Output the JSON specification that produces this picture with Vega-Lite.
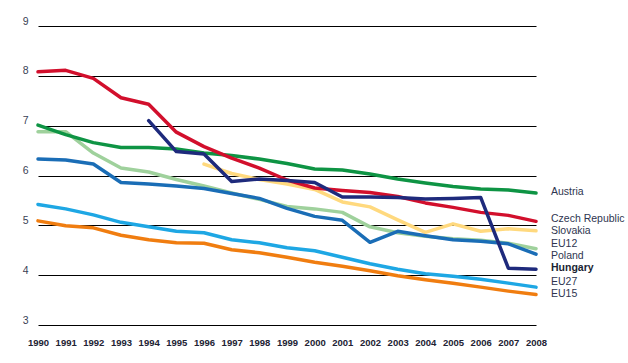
{
  "$schema": "https://vega.github.io/schema/vega-lite/v6.json",
  "autosize": {"type": "none"},
  "padding": {"left": 38, "top": 26, "right": 92, "bottom": 38},
  "width": 498,
  "height": 299,
  "background": "white",
  "config": {"view": {"stroke": null}, "font": "Liberation Sans"},
  "datasets": {
    "series": [
      {"series":"EU15","year":1990,"value":5.09},{"series":"EU15","year":1991,"value":4.99},{"series":"EU15","year":1992,"value":4.95},{"series":"EU15","year":1993,"value":4.80},{"series":"EU15","year":1994,"value":4.71},{"series":"EU15","year":1995,"value":4.65},{"series":"EU15","year":1996,"value":4.64},{"series":"EU15","year":1997,"value":4.51},{"series":"EU15","year":1998,"value":4.45},{"series":"EU15","year":1999,"value":4.36},{"series":"EU15","year":2000,"value":4.26},{"series":"EU15","year":2001,"value":4.18},{"series":"EU15","year":2002,"value":4.09},{"series":"EU15","year":2003,"value":3.99},{"series":"EU15","year":2004,"value":3.91},{"series":"EU15","year":2005,"value":3.84},{"series":"EU15","year":2006,"value":3.76},{"series":"EU15","year":2007,"value":3.68},{"series":"EU15","year":2008,"value":3.61},
      {"series":"EU27","year":1990,"value":5.42},{"series":"EU27","year":1991,"value":5.33},{"series":"EU27","year":1992,"value":5.21},{"series":"EU27","year":1993,"value":5.06},{"series":"EU27","year":1994,"value":4.97},{"series":"EU27","year":1995,"value":4.88},{"series":"EU27","year":1996,"value":4.85},{"series":"EU27","year":1997,"value":4.71},{"series":"EU27","year":1998,"value":4.65},{"series":"EU27","year":1999,"value":4.55},{"series":"EU27","year":2000,"value":4.49},{"series":"EU27","year":2001,"value":4.36},{"series":"EU27","year":2002,"value":4.23},{"series":"EU27","year":2003,"value":4.12},{"series":"EU27","year":2004,"value":4.03},{"series":"EU27","year":2005,"value":3.98},{"series":"EU27","year":2006,"value":3.92},{"series":"EU27","year":2007,"value":3.84},{"series":"EU27","year":2008,"value":3.76},
      {"series":"EU12","year":1990,"value":6.88},{"series":"EU12","year":1991,"value":6.88},{"series":"EU12","year":1992,"value":6.45},{"series":"EU12","year":1993,"value":6.15},{"series":"EU12","year":1994,"value":6.07},{"series":"EU12","year":1995,"value":5.92},{"series":"EU12","year":1996,"value":5.79},{"series":"EU12","year":1997,"value":5.65},{"series":"EU12","year":1998,"value":5.52},{"series":"EU12","year":1999,"value":5.38},{"series":"EU12","year":2000,"value":5.33},{"series":"EU12","year":2001,"value":5.26},{"series":"EU12","year":2002,"value":4.97},{"series":"EU12","year":2003,"value":4.85},{"series":"EU12","year":2004,"value":4.78},{"series":"EU12","year":2005,"value":4.73},{"series":"EU12","year":2006,"value":4.70},{"series":"EU12","year":2007,"value":4.64},{"series":"EU12","year":2008,"value":4.53},
      {"series":"Slovakia","year":1996,"value":6.23},{"series":"Slovakia","year":1997,"value":6.04},{"series":"Slovakia","year":1998,"value":5.92},{"series":"Slovakia","year":1999,"value":5.83},{"series":"Slovakia","year":2000,"value":5.72},{"series":"Slovakia","year":2001,"value":5.47},{"series":"Slovakia","year":2002,"value":5.37},{"series":"Slovakia","year":2003,"value":5.11},{"series":"Slovakia","year":2004,"value":4.86},{"series":"Slovakia","year":2005,"value":5.03},{"series":"Slovakia","year":2006,"value":4.88},{"series":"Slovakia","year":2007,"value":4.93},{"series":"Slovakia","year":2008,"value":4.89},
      {"series":"Austria","year":1990,"value":7.01},{"series":"Austria","year":1991,"value":6.82},{"series":"Austria","year":1992,"value":6.66},{"series":"Austria","year":1993,"value":6.56},{"series":"Austria","year":1994,"value":6.56},{"series":"Austria","year":1995,"value":6.53},{"series":"Austria","year":1996,"value":6.45},{"series":"Austria","year":1997,"value":6.40},{"series":"Austria","year":1998,"value":6.33},{"series":"Austria","year":1999,"value":6.24},{"series":"Austria","year":2000,"value":6.13},{"series":"Austria","year":2001,"value":6.11},{"series":"Austria","year":2002,"value":6.03},{"series":"Austria","year":2003,"value":5.93},{"series":"Austria","year":2004,"value":5.85},{"series":"Austria","year":2005,"value":5.78},{"series":"Austria","year":2006,"value":5.73},{"series":"Austria","year":2007,"value":5.71},{"series":"Austria","year":2008,"value":5.65},
      {"series":"Czech Republic","year":1990,"value":8.08},{"series":"Czech Republic","year":1991,"value":8.11},{"series":"Czech Republic","year":1992,"value":7.95},{"series":"Czech Republic","year":1993,"value":7.56},{"series":"Czech Republic","year":1994,"value":7.43},{"series":"Czech Republic","year":1995,"value":6.87},{"series":"Czech Republic","year":1996,"value":6.58},{"series":"Czech Republic","year":1997,"value":6.35},{"series":"Czech Republic","year":1998,"value":6.15},{"series":"Czech Republic","year":1999,"value":5.91},{"series":"Czech Republic","year":2000,"value":5.75},{"series":"Czech Republic","year":2001,"value":5.70},{"series":"Czech Republic","year":2002,"value":5.66},{"series":"Czech Republic","year":2003,"value":5.58},{"series":"Czech Republic","year":2004,"value":5.45},{"series":"Czech Republic","year":2005,"value":5.36},{"series":"Czech Republic","year":2006,"value":5.26},{"series":"Czech Republic","year":2007,"value":5.20},{"series":"Czech Republic","year":2008,"value":5.08},
      {"series":"Poland","year":1990,"value":6.33},{"series":"Poland","year":1991,"value":6.31},{"series":"Poland","year":1992,"value":6.23},{"series":"Poland","year":1993,"value":5.86},{"series":"Poland","year":1994,"value":5.83},{"series":"Poland","year":1995,"value":5.79},{"series":"Poland","year":1996,"value":5.74},{"series":"Poland","year":1997,"value":5.64},{"series":"Poland","year":1998,"value":5.54},{"series":"Poland","year":1999,"value":5.34},{"series":"Poland","year":2000,"value":5.18},{"series":"Poland","year":2001,"value":5.10},{"series":"Poland","year":2002,"value":4.66},{"series":"Poland","year":2003,"value":4.88},{"series":"Poland","year":2004,"value":4.79},{"series":"Poland","year":2005,"value":4.71},{"series":"Poland","year":2006,"value":4.68},{"series":"Poland","year":2007,"value":4.63},{"series":"Poland","year":2008,"value":4.42},
      {"series":"Hungary","year":1994,"value":7.10},{"series":"Hungary","year":1995,"value":6.48},{"series":"Hungary","year":1996,"value":6.43},{"series":"Hungary","year":1997,"value":5.88},{"series":"Hungary","year":1998,"value":5.93},{"series":"Hungary","year":1999,"value":5.90},{"series":"Hungary","year":2000,"value":5.86},{"series":"Hungary","year":2001,"value":5.57},{"series":"Hungary","year":2002,"value":5.57},{"series":"Hungary","year":2003,"value":5.56},{"series":"Hungary","year":2004,"value":5.53},{"series":"Hungary","year":2005,"value":5.54},{"series":"Hungary","year":2006,"value":5.56},{"series":"Hungary","year":2007,"value":4.14},{"series":"Hungary","year":2008,"value":4.12}
    ],
    "labels": [
      {"series":"Austria","year":2008,"labelValue":5.67,"bold":false},
      {"series":"Czech Republic","year":2008,"labelValue":5.12,"bold":false},
      {"series":"Slovakia","year":2008,"labelValue":4.89,"bold":false},
      {"series":"EU12","year":2008,"labelValue":4.63,"bold":false},
      {"series":"Poland","year":2008,"labelValue":4.39,"bold":false},
      {"series":"Hungary","year":2008,"labelValue":4.14,"bold":true},
      {"series":"EU27","year":2008,"labelValue":3.86,"bold":false},
      {"series":"EU15","year":2008,"labelValue":3.62,"bold":false}
    ]
  },
  "encoding": {
    "x": {
      "field": "year", "type": "quantitative",
      "scale": {"domain": [1990, 2008], "nice": false, "zero": false},
      "axis": {
        "values": [1990,1991,1992,1993,1994,1995,1996,1997,1998,1999,2000,2001,2002,2003,2004,2005,2006,2007,2008],
        "format": "d", "title": null, "domain": false, "ticks": false, "grid": false,
        "labelOverlap": false, "labelBound": false, "labelFlush": false,
        "labelFont": "Liberation Sans", "labelFontWeight": "bold", "labelFontSize": 9.5,
        "labelColor": "#222233", "labelPadding": 12
      }
    }
  },
  "layer": [
    {
      "data": {"name": "series"},
      "mark": {"type": "line", "strokeWidth": 3.5, "strokeJoin": "round", "strokeCap": "round", "clip": false},
      "encoding": {
        "y": {
          "field": "value", "type": "quantitative",
          "scale": {"domain": [3, 9], "nice": false, "zero": false},
          "axis": {
            "values": [3,4,5,6,7,8,9], "title": null, "domain": false, "ticks": false,
            "grid": true, "gridColor": "#000000", "gridWidth": 1.2, "gridOpacity": 1,
            "labelOverlap": false, "labelFlush": false,
            "labelFont": "Liberation Sans", "labelFontSize": 10.5, "labelColor": "#3a3f55",
            "labelPadding": 10, "labelBaseline": "bottom"
          }
        },
        "color": {
          "field": "series", "type": "nominal", "legend": null,
          "scale": {
            "domain": ["EU15","EU27","EU12","Slovakia","Austria","Czech Republic","Poland","Hungary"],
            "range": ["#f07d10","#1ea7e4","#9fd19c","#ffd97e","#0e9444","#d20f2c","#1a6db6","#1e2a7c"]
          }
        },
        "detail": {"field": "series"}
      }
    },
    {
      "data": {"name": "labels"},
      "transform": [{"filter": "!datum.bold"}],
      "mark": {"type": "text", "align": "left", "baseline": "middle", "dx": 15, "fontSize": 10.5, "font": "Liberation Sans", "color": "#2e3550", "clip": false},
      "encoding": {
        "y": {"field": "labelValue", "type": "quantitative"},
        "text": {"field": "series"}
      }
    },
    {
      "data": {"name": "labels"},
      "transform": [{"filter": "datum.bold"}],
      "mark": {"type": "text", "align": "left", "baseline": "middle", "dx": 15, "fontSize": 10.5, "fontWeight": "bold", "font": "Liberation Sans", "color": "#1a1f33", "clip": false},
      "encoding": {
        "y": {"field": "labelValue", "type": "quantitative"},
        "text": {"field": "series"}
      }
    },
    {
      "mark": {"type": "rule", "color": "#333333", "strokeWidth": 0.8, "clip": false},
      "encoding": {
        "x": {"datum": 2008.07},
        "x2": {"datum": 2008.52},
        "y": {"datum": 4.53}
      }
    }
  ]
}
